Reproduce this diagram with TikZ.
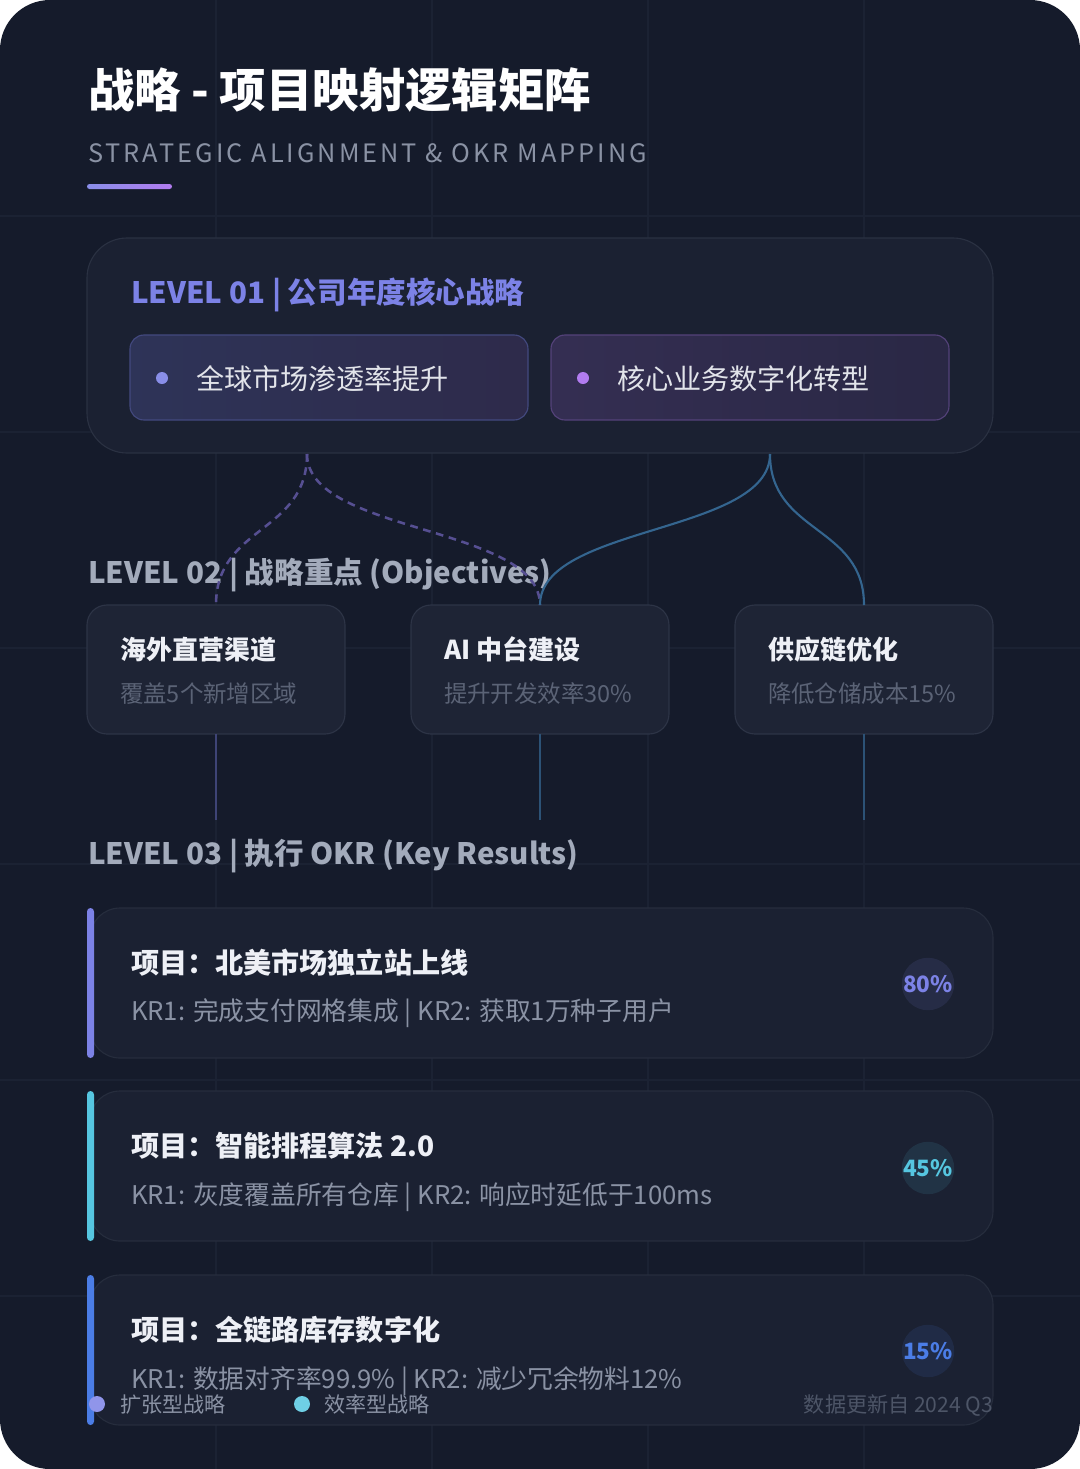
\documentclass[tikz,border=0pt]{standalone}
\usepackage{fontspec}
\setmainfont{Noto Sans CJK SC}
\newfontfamily\spacedfont{Noto Sans CJK SC}[LetterSpace=12]
\usetikzlibrary{positioning}

\newdimen\px
\px=0.025cm

\definecolor{pagebg}{HTML}{151B2B}
\definecolor{gridln}{HTML}{1B2233}
\definecolor{panelfill}{HTML}{1B2132}
\definecolor{panelline}{HTML}{2A3142}
\definecolor{boxfill}{HTML}{1E2435}
\definecolor{boxline}{HTML}{2D3446}
\definecolor{lavender}{HTML}{7C82E6}
\definecolor{violet}{HTML}{B27CF0}
\definecolor{cyanacc}{HTML}{56C6E0}
\definecolor{blueacc}{HTML}{4B7DE6}
\definecolor{greylabel}{HTML}{A3ABBB}
\definecolor{dimtext}{HTML}{5B6376}
\definecolor{krtext}{HTML}{8A92A4}
\definecolor{headtext}{HTML}{EEF0F6}
\definecolor{dashlink}{HTML}{564F92}
\definecolor{solidlink}{HTML}{34658F}

\begin{document}
\begin{tikzpicture}[x=0.025cm, y=-0.025cm,
  every node/.style={inner sep=0pt, outer sep=0pt},
  txt/.style={anchor=base west},
  maintitle/.style={txt, text=white, font=\fontsize{33}{40}\selectfont\bfseries},
  subtitle/.style={txt, text=krtext, font=\spacedfont\fontsize{18}{22}\selectfont},
  levellabel/.style={txt, text=greylabel, font=\fontsize{21}{25}\selectfont\bfseries},
  panel/.style={draw=panelline, fill=panelfill, line width=0.8pt, rounded corners=40\px,
                minimum width=906\px, minimum height=215\px},
  stratbox/.style={draw, line width=0.8pt, rounded corners=14\px,
                   minimum width=398\px, minimum height=85\px},
  strattext/.style={txt, text=headtext!95!black, font=\fontsize{20}{24}\selectfont},
  objbox/.style={draw=boxline, fill=boxfill, line width=0.8pt, rounded corners=20\px,
                 minimum width=258\px, minimum height=129\px},
  objtitle/.style={txt, text=headtext, font=\fontsize{18.5}{22}\selectfont\bfseries},
  objsub/.style={txt, text=dimtext, font=\fontsize{16.7}{20}\selectfont},
  krcard/.style={draw=panelline!80!pagebg, fill=panelfill, line width=0.8pt, rounded corners=30\px,
                 minimum width=903\px, minimum height=150\px},
  accentbar/.style={rounded corners=3.5\px, minimum width=7\px, minimum height=150\px},
  krtitle/.style={txt, text=headtext, font=\fontsize{20}{24}\selectfont\bfseries},
  krline/.style={txt, text=krtext, font=\fontsize{18.3}{22}\selectfont},
  pct/.style={circle, minimum size=52\px, font=\fontsize{16}{19}\selectfont\bfseries},
  dot/.style={circle, minimum size=#1\px},
  legend/.style={txt, text=krtext, font=\fontsize{15}{18}\selectfont},
  dashedlink/.style={draw=dashlink, line width=1.8pt, dash pattern=on 5.5pt off 4pt},
  solidlink/.style={draw=solidlink, line width=1.5pt},
  droplink/.style={line width=1.1pt},
]

% ---- page and faint grid ---------------------------------------------
\useasboundingbox (0,0) rectangle (1080,1469);
\fill[white] (0,0) rectangle (1080,1469);
\fill[pagebg, rounded corners=50\px] (0,0) rectangle (1080,1469);
\foreach \gx in {216,432,648,864} \draw[gridln, line width=0.8pt] (\gx,0) -- (\gx,1469);
\foreach \gy in {216,432,648,864,1080,1296} \draw[gridln, line width=0.8pt] (0,\gy) -- (1080,\gy);

% ---- heading ---------------------------------------------------------
\node[maintitle] (title) at (88,107) {战略 - 项目映射逻辑矩阵};
\node[subtitle] (subtitle) at (88,162) {STRATEGIC ALIGNMENT \& OKR MAPPING};
\node[rounded corners=2.5\px, minimum width=85\px, minimum height=5\px,
      left color=lavender!90!white, right color=violet] (underline) at (129.5,186.5) {};

% ---- level 01: company strategy --------------------------------------
\node[panel] (lvl1) at (540,345.5) {};
\node[levellabel, text=lavender] (lvl1label) at (131,303) {LEVEL 01 | 公司年度核心战略};
\node[stratbox, draw=lavender!45!pagebg, left color=lavender!24!pagebg, right color=violet!16!pagebg]
      (stratA) at (329,377.5) {};
\node[stratbox, draw=violet!40!pagebg, left color=violet!20!pagebg, right color=violet!13!pagebg]
      (stratB) at (750,377.5) {};
\node[dot=12, fill=lavender!90!white] (dotA) at (162,378) {};
\node[dot=12, fill=violet] (dotB) at (583,378) {};
\node[strattext] (stratAtext) at (196,389) {全球市场渗透率提升};
\node[strattext] (stratBtext) at (617,389) {核心业务数字化转型};

% ---- level 02: objectives --------------------------------------------
\node[levellabel] (lvl2label) at (88,583) {LEVEL 02 | 战略重点 (Objectives)};

\node[objbox] (objA) at (216,669.5) {};
\node[objbox] (objB) at (540,669.5) {};
\node[objbox] (objC) at (864,669.5) {};

\node[objtitle] (objAtitle) at (120,659) {海外直营渠道};
\node[objsub]   (objAsub)   at (120,702) {覆盖5个新增区域};
\node[objtitle] (objBtitle) at (444,659) {AI 中台建设};
\node[objsub]   (objBsub)   at (444,702) {提升开发效率30\%};
\node[objtitle] (objCtitle) at (768,659) {供应链优化};
\node[objsub]   (objCsub)   at (768,702) {降低仓储成本15\%};

% ---- links: strategy -> objectives ------------------------------------
\coordinate (footA) at (307,454);
\coordinate (footB) at (770,454);
\draw[dashedlink] (footA) .. controls +(0,80) and +(0,-80) .. (objA.north);
\draw[dashedlink] (footA) .. controls +(0,80) and +(0,-80) .. (objB.north);
\draw[solidlink] (footB) .. controls +(0,80) and +(0,-80) .. (objB.north);
\draw[solidlink] (footB) .. controls +(0,80) and +(0,-80) .. (objC.north);

% ---- links: objectives -> level 03 ------------------------------------
\draw[droplink, draw=lavender!40!pagebg] (objA.south) -- ++(0,86);
\draw[droplink, draw=solidlink!75!pagebg] (objB.south) -- ++(0,86);
\draw[droplink, draw=solidlink!75!pagebg] (objC.south) -- ++(0,86);

% ---- level 03: key results -------------------------------------------
\node[levellabel] (lvl3label) at (88,864) {LEVEL 03 | 执行 OKR (Key Results)};

\node[krcard] (krA) at (541.5,983) {};
\node[krcard] (krB) at (541.5,1166) {};
\node[krcard] (krC) at (541.5,1350) {};
\node[accentbar, fill=lavender] (barA) at (90.5,983) {};
\node[accentbar, fill=cyanacc] (barB) at (90.5,1166) {};
\node[accentbar, fill=blueacc] (barC) at (90.5,1350) {};

\node[krtitle] (krAtitle) at (131,973) {项目：北美市场独立站上线};
\node[krline]  (krAline)  at (131,1020) {KR1: 完成支付网格集成 | KR2: 获取1万种子用户};
\node[krtitle] (krBtitle) at (131,1156) {项目：智能排程算法 2.0};
\node[krline]  (krBline)  at (131,1204) {KR1: 灰度覆盖所有仓库 | KR2: 响应时延低于100ms};
\node[krtitle] (krCtitle) at (131,1340) {项目：全链路库存数字化};
\node[krline]  (krCline)  at (131,1388) {KR1: 数据对齐率99.9\% | KR2: 减少冗余物料12\%};

\node[pct, fill=lavender!11!panelfill, text=lavender] (pctA) at (928,984) {80\%};
\node[pct, fill=cyanacc!11!panelfill, text=cyanacc] (pctB) at (928,1168) {45\%};
\node[pct, fill=blueacc!11!panelfill, text=blueacc] (pctC) at (928,1351) {15\%};

% ---- legend ----------------------------------------------------------
\node[dot=16, fill=lavender!85!white] (keyA) at (97,1404) {};
\node[legend] (keyAtext) at (120,1412) {扩张型战略};
\node[dot=16, fill=cyanacc!85!white] (keyB) at (302,1404) {};
\node[legend] (keyBtext) at (324,1412) {效率型战略};
\node[legend, anchor=base east, text=dimtext!80!pagebg] (stamp) at (993,1412) {数据更新自 2024 Q3};

\end{tikzpicture}
\end{document}
